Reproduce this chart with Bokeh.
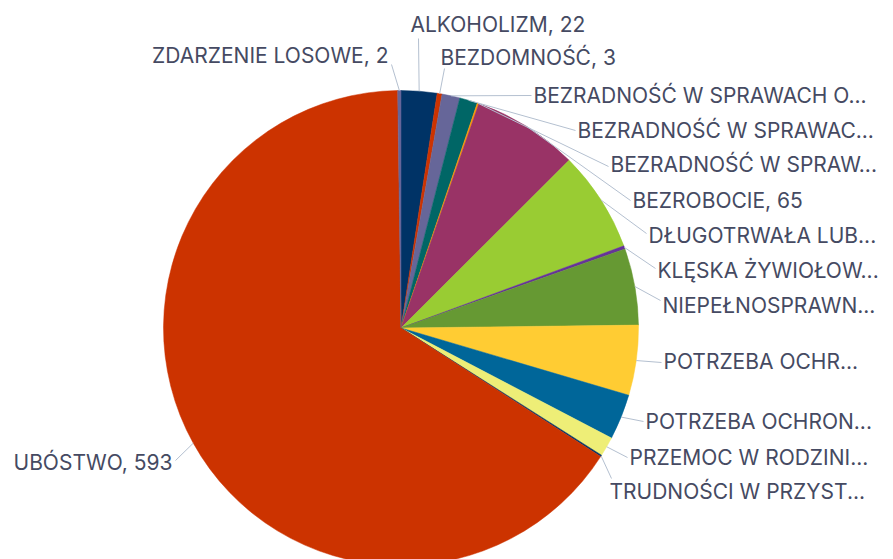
import math
from bokeh.plotting import figure
from bokeh.models import Range1d, ColumnDataSource
from bokeh.core.properties import value
from bokeh.embed import file_html
from bokeh.resources import INLINE

# ---- data ----
categories = [
    "ALKOHOLIZM", "BEZDOMNOŚĆ", "BEZRADNOŚĆ W SPRAWACH O...", "BEZRADNOŚĆ W SPRAWAC...",
    "BEZRADNOŚĆ W SPRAW...", "BEZROBOCIE", "DŁUGOTRWAŁA LUB...", "KLĘSKA ŻYWIOŁOW...",
    "NIEPEŁNOSPRAWN...", "POTRZEBA OCHR...", "POTRZEBA OCHRON...", "PRZEMOC W RODZINI...",
    "TRUDNOŚCI W PRZYST...", "UBÓSTWO", "ZDARZENIE LOSOWE",
]
values = [22, 3, 11, 11, 1, 65, 62, 2, 47, 43, 28, 12, 1, 593, 2]
show_value = [True, True, False, False, False, True, False, False, False, False, False, False, False, True, True]

# ---- styles / layout ----
palette = ["#003366", "#cc3300", "#666699", "#006666", "#ff9900", "#993366",
           "#99cc33", "#663399", "#669933", "#ffcc33", "#006699", "#eeee77"]
W, H = 893, 559
cx, cy_px, R = 400.5, 327.5, 237.5

# label anchor (pixel coords from top-left), alignment, connector end
label_x = [410, 440, 533, 577, 610, 632, 648, 657, 662, 663, 645, 629, 609, 172, 388]
label_y = [24, 57, 95, 130, 164, 200, 235, 270, 305, 361, 421, 457, 491, 462, 55]
label_align = ["left"] * 13 + ["right", "right"]
conn_x = [418, 444, 531, 575, 608, 630, 646, 655, 660, 661, 643, 627, 611, 175, 391]
conn_y = [38, 68, 95, 130, 166, 200, 233, 268, 300, 362, 421, 457, 478, 460, 64]

total = sum(values)
starts, ends, mids = [], [], []
acc = 0.0
for v in values:
    a0 = acc / total * 2 * math.pi
    acc += v
    a1 = acc / total * 2 * math.pi
    starts.append(math.pi / 2 - a0)
    ends.append(math.pi / 2 - a1)
    mids.append((a0 + a1) / 2)

colors = [palette[i % len(palette)] for i in range(len(values))]
cy = H - cy_px

p = figure(width=W, height=H, output_backend="svg", toolbar_location=None,
           x_range=Range1d(0, W), y_range=Range1d(0, H), min_border=0,
           outline_line_color=None)
p.axis.visible = False
p.grid.visible = False
p.background_fill_color = "white"
p.border_fill_color = "white"

src = ColumnDataSource(dict(start=starts, end=ends, color=colors))
p.wedge(x=cx, y=cy, radius=R, radius_units="screen", start_angle="start",
        end_angle="end", direction="clock", fill_color="color",
        line_color="color", line_width=0.5, source=src)

# connectors
xs, ys = [], []
for i, m in enumerate(mids):
    ex = cx + R * math.sin(m)
    ey = cy + R * math.cos(m)
    xs.append([ex, conn_x[i]])
    ys.append([ey, H - conn_y[i]])
p.multi_line(xs=xs, ys=ys, line_color="#b4c0d0", line_width=1)

texts = [f"{c}, {v}" if s else c for c, v, s in zip(categories, values, show_value)]
for al in ("left", "right"):
    idx = [i for i in range(len(texts)) if label_align[i] == al]
    ts = ColumnDataSource(dict(x=[label_x[i] for i in idx],
                               y=[H - label_y[i] for i in idx],
                               t=[texts[i] for i in idx]))
    p.text(x="x", y="y", text="t", source=ts, text_align=al,
           text_baseline="middle", text_font=value("Inter"),
           text_font_size="21px", text_color="#454a62")

open("out.html", "w").write(file_html(p, INLINE))
